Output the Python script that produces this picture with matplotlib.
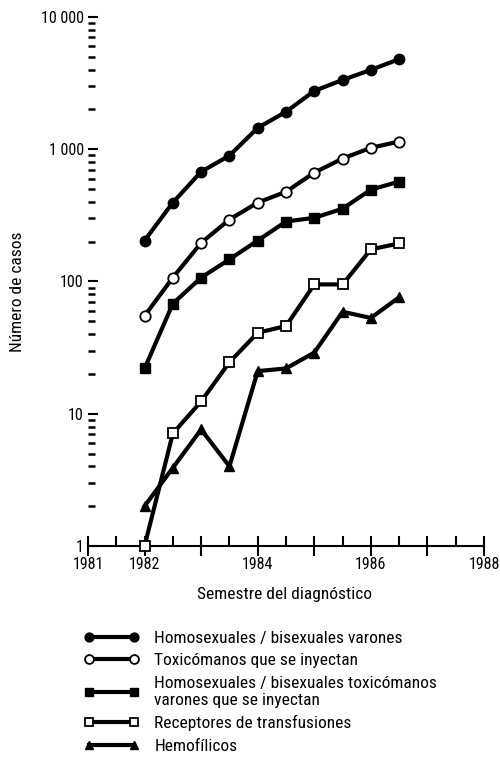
import matplotlib
matplotlib.use('Agg')
import matplotlib.pyplot as plt
from matplotlib.ticker import FixedLocator, LogLocator, NullFormatter

plt.rcParams['font.family'] = ['Roboto Condensed', 'DejaVu Sans']

# semestres 1982 .. 1986.5
semestres = [1982, 1982.5, 1983, 1983.5, 1984, 1984.5, 1985, 1985.5, 1986, 1986.5]

homo_bi = [204, 395, 676, 895, 1450, 1920, 2760, 3340, 3980, 4800]
toxicomanos = [55, 107, 196, 294, 395, 477, 665, 850, 1025, 1143]
homo_toxicomanos = [22, 68, 107, 147, 204, 284, 303, 355, 495, 569]
transfusiones = [1, 7.1, 12.4, 24.5, 41, 46, 95, 95, 175, 194]
hemofilicos = [2, 3.9, 7.6, 4, 21, 22, 29, 59, 53, 76]

etiquetas = [
    'Homosexuales / bisexuales varones',
    'Toxicómanos que se inyectan',
    'Homosexuales / bisexuales toxicómanos\nvarones que se inyectan',
    'Receptores de transfusiones',
    'Hemofílicos',
]

fig = plt.figure(figsize=(5, 7.75), dpi=100)
ax = fig.add_axes([0.176, 0.2955, 0.792, 0.6826])

lw = 3.0
ms = 7.5
ax.plot(semestres, homo_bi, color='black', lw=lw, marker='o', ms=ms, label=etiquetas[0], clip_on=False)
ax.plot(semestres, toxicomanos, color='black', lw=lw, marker='o', ms=ms, mfc='white', mew=1.3,
        label=etiquetas[1], clip_on=False)
ax.plot(semestres, homo_toxicomanos, color='black', lw=lw, marker='s', ms=ms, label=etiquetas[2], clip_on=False)
ax.plot(semestres, transfusiones, color='black', lw=lw, marker='s', ms=ms, mfc='white', mew=1.3,
        label=etiquetas[3], clip_on=False, zorder=3)
ax.plot(semestres, hemofilicos, color='black', lw=lw, marker='^', ms=ms, label=etiquetas[4], clip_on=False)

ax.set_yscale('log')
ax.set_ylim(1, 10000)
ax.set_xlim(1981, 1988)

ax.spines['top'].set_visible(False)
ax.spines['right'].set_visible(False)
ax.spines['left'].set_visible(False)
ax.spines['bottom'].set_linewidth(1.5)

ax.set_yticks([1, 10, 100, 1000, 10000])
ax.set_yticklabels(['1', '10', '100', '1 000', '10 000'])
ax.yaxis.set_minor_locator(LogLocator(base=10, subs=range(2, 10)))
ax.yaxis.set_minor_formatter(NullFormatter())
ax.tick_params(axis='y', which='major', direction='in', length=7, width=1.5, labelsize=11.5, pad=3)
ax.tick_params(axis='y', which='minor', direction='in', length=5, width=1.8)

ax.set_xticks([1981, 1982, 1983, 1984, 1985, 1986, 1987, 1988])
ax.set_xticklabels(['1981', '1982', '', '1984', '', '1986', '', '1988'])
ax.xaxis.set_minor_locator(FixedLocator([1981.5, 1982.5, 1983.5, 1984.5, 1985.5, 1986.5, 1987.5]))
ax.tick_params(axis='x', which='major', direction='inout', length=14, width=1.5, labelsize=11.5, pad=1)
ax.tick_params(axis='x', which='minor', direction='in', length=7, width=1.5)

ax.set_ylabel('Número de casos', fontsize=12.5)
ax.set_xlabel('Semestre del diagnóstico', fontsize=12.5)
ax.yaxis.set_label_coords(-0.16, 0.48)
ax.xaxis.set_label_coords(0.495, -0.078)

fig.legend(loc='upper left', bbox_to_anchor=(0.168, 0.186), frameon=False, fontsize=12.5,
           numpoints=2, handlelength=3.2, handletextpad=0.85, labelspacing=0.42, borderpad=0,
           borderaxespad=0, markerscale=0.85)

fig.savefig('out.png', dpi=100)
